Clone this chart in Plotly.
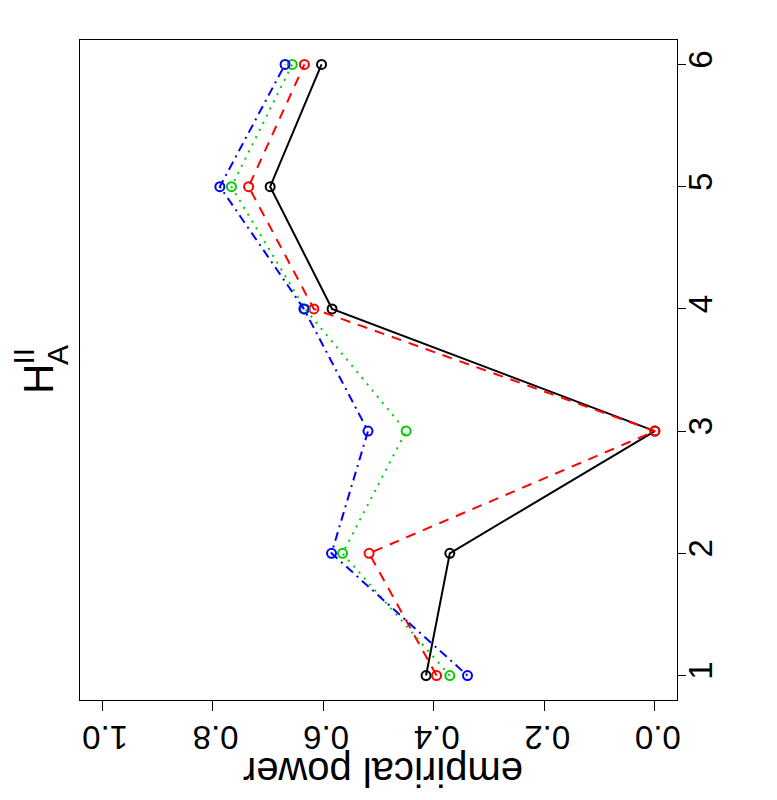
import plotly.graph_objects as go

settings = [1, 2, 3, 4, 5, 6]
power_black = [0.414, 0.371, 0.0, 0.584, 0.696, 0.603]
power_red = [0.395, 0.517, 0.0, 0.617, 0.735, 0.634]
power_green = [0.371, 0.565, 0.450, 0.633, 0.766, 0.656]
power_blue = [0.339, 0.585, 0.519, 0.635, 0.787, 0.669]

power_ticks = [0.0, 0.2, 0.4, 0.6, 0.8, 1.0]
power_ticktext = ["0.0", "0.2", "0.4", "0.6", "0.8", "1.0"]

series = [
    ("black", power_black, "#000000", "solid"),
    ("red", power_red, "#FF0000", "10px,8px"),
    ("green", power_green, "#00CD00", "2px,6px"),
    ("blue", power_blue, "#0000FF", "2px,5px,9px,5px"),
]

FONT = "Liberation Sans, Arial, Helvetica, sans-serif"

fig = go.Figure()
for name, vals, color, dash in series:
    fig.add_trace(go.Scatter(
        x=vals, y=settings, mode="lines+markers", name=name,
        line=dict(color=color, width=2, dash=dash),
        marker=dict(symbol="circle-open", size=9, color=color,
                    line=dict(color=color, width=2)),
        showlegend=False,
    ))

OFF = 8  # default page body margin
W, H = 769, 784
L, T = 72, 32
pw, ph = 597, 660
R = W - L - pw
B = H - T - ph


def px(xp):
    return (xp - OFF - L) / pw


def py(yp):
    return (T + ph - (yp - OFF)) / ph


fig.update_layout(
    width=W, height=H,
    margin=dict(l=L, r=R, t=T, b=B),
    paper_bgcolor="white", plot_bgcolor="white",
    font=dict(family=FONT, color="black"),
    xaxis=dict(
        range=[1.04, -0.04], tickvals=power_ticks, ticktext=power_ticktext,
        tickangle=180, tickfont=dict(size=33, family=FONT),
        ticks="outside", ticklen=10, tickwidth=1, tickcolor="black",
        ticklabelstandoff=8, ticklabelshift=20,
        showline=True, linecolor="black", linewidth=1, mirror=True,
        showgrid=False, zeroline=False,
    ),
    yaxis=dict(
        range=[0.8, 6.2], tickvals=settings, side="right",
        tickangle=-90, tickfont=dict(size=33, family=FONT),
        ticks="outside", ticklen=8, tickwidth=1, tickcolor="black",
        ticklabelstandoff=-14,
        showline=True, linecolor="black", linewidth=1, mirror=True,
        showgrid=False, zeroline=False,
    ),
)

annots = [
    dict(text="empirical power", x=px(383), y=py(772), size=40, angle=180),
    dict(text="H", x=px(38), y=py(379), size=42, angle=-90),
    dict(text="II", x=px(22.5), y=py(356), size=30, angle=-90),
    dict(text="A", x=px(57), y=py(355), size=30, angle=-90),
]
for a in annots:
    fig.add_annotation(
        text=a["text"], x=a["x"], y=a["y"], xref="paper", yref="paper",
        showarrow=False, textangle=a["angle"], xanchor="center", yanchor="middle",
        font=dict(size=a["size"], family=FONT, color="black"),
    )

fig.write_html("out.html")
